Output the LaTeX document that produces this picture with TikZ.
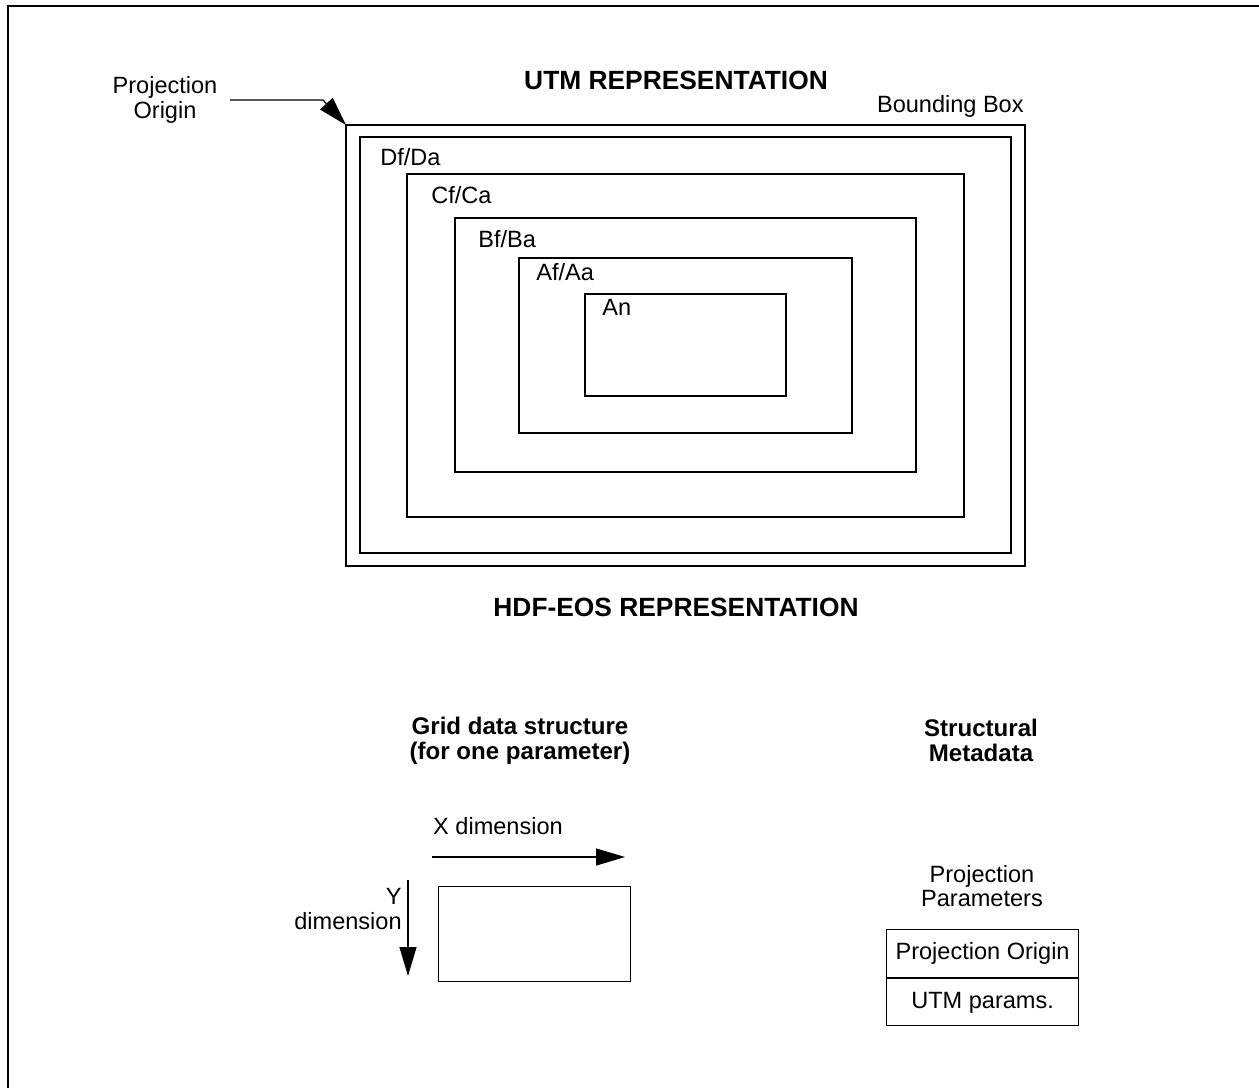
\documentclass[tikz,border=0pt]{standalone}
\usepackage{fontspec}
\setmainfont{Liberation Sans}
\usetikzlibrary{arrows.meta}

\tikzset{
  lbl/.style={font=\fontsize{13.4}{13.8}\selectfont, inner sep=0pt},
  ttl/.style={font=\bfseries\fontsize{15}{14.4}\selectfont, inner sep=0pt, align=center},
  subttl/.style={font=\bfseries\fontsize{13.7}{14.2}\selectfont, inner sep=0pt, align=center},
  box/.style={line width=0.7pt},
  arr/.style={line width=0.7pt, -{Triangle[length=0.58cm,width=0.34cm]}}
}

\begin{document}
\begin{tikzpicture}[x=0.02cm,y=-0.02cm]
        \useasboundingbox (0,0) rectangle (1259,1088);

        % Page frame (right and bottom edges lie off the sheet)
        \draw[line width=1.1pt] (8,1088) -- (8,6) -- (1259,6);

        % Nested boxes of the UTM representation
        \coordinate (bbA) at (346,125);
        \coordinate (bbB) at (1025,566);
        \draw[box] (bbA) rectangle (bbB);
        \draw[box] (360,137) rectangle (1011,553);
        \draw[box] (407,174) rectangle (964,517);
        \draw[box] (455,218) rectangle (916,472);
        \draw[box] (519,258) rectangle (852,433);
        \draw[box] (585,294) rectangle (786,396);

        % Box labels
        \node[lbl, anchor=west] (dfda) at (380,157) {Df/Da};
        \node[lbl, anchor=west] (cfca) at (431,195) {Cf/Ca};
        \node[lbl, anchor=west] (bfba) at (478,239) {Bf/Ba};
        \node[lbl, anchor=west] (afaa) at (536,272) {Af/Aa};
        \node[lbl, anchor=west] (an) at (602,307) {An};
        \node[lbl, anchor=east] (bbox) at (1024,106) {Bounding Box};

        % Titles
        \node[ttl] (utm) at (676,80) {UTM REPRESENTATION};
        \node[ttl] (hdf) at (676,607) {HDF-EOS REPRESENTATION};
        \node[subttl] (grid) at (520,741) {Grid data structure\\(for one parameter)};
        \node[subttl] (smeta) at (981,740) {Structural\\Metadata};

        % Projection origin pointer
        \node[lbl, align=center] (porig) at (165,100) {Projection\\Origin};
        \coordinate (pbend) at (323,100);
        \draw[arr] ([xshift=7]porig.east) -- (pbend) -- (bbA);

        % Grid data structure
        \node[box, draw, minimum width=192*0.02cm, minimum height=95*0.02cm, anchor=north west] (gbox) at (438,886) {};
        \node[lbl] (xdim) at (498,826) {X dimension};
        \coordinate (xa) at (432,857);
        \coordinate (xb) at (625,857);
        \draw[arr] (xa) -- (xb);
        \node[lbl, align=right, anchor=east] (ydim) at (402,909) {Y\\dimension};
        \coordinate (ya) at (408,880);
        \coordinate (yb) at (408,976);
        \draw[arr] (ya) -- (yb);

        % Projection parameters table
        \node[lbl, align=center] (pparm) at (982,886) {Projection\\Parameters};
        \node[box, draw, lbl, minimum width=192*0.02cm, minimum height=48*0.02cm, anchor=north west] (porg2) at (886,929) {Projection Origin};
        \node[box, draw, lbl, minimum width=192*0.02cm, minimum height=47*0.02cm, anchor=north] (utmp) at (porg2.south) {UTM params.};

\end{tikzpicture}
\end{document}
